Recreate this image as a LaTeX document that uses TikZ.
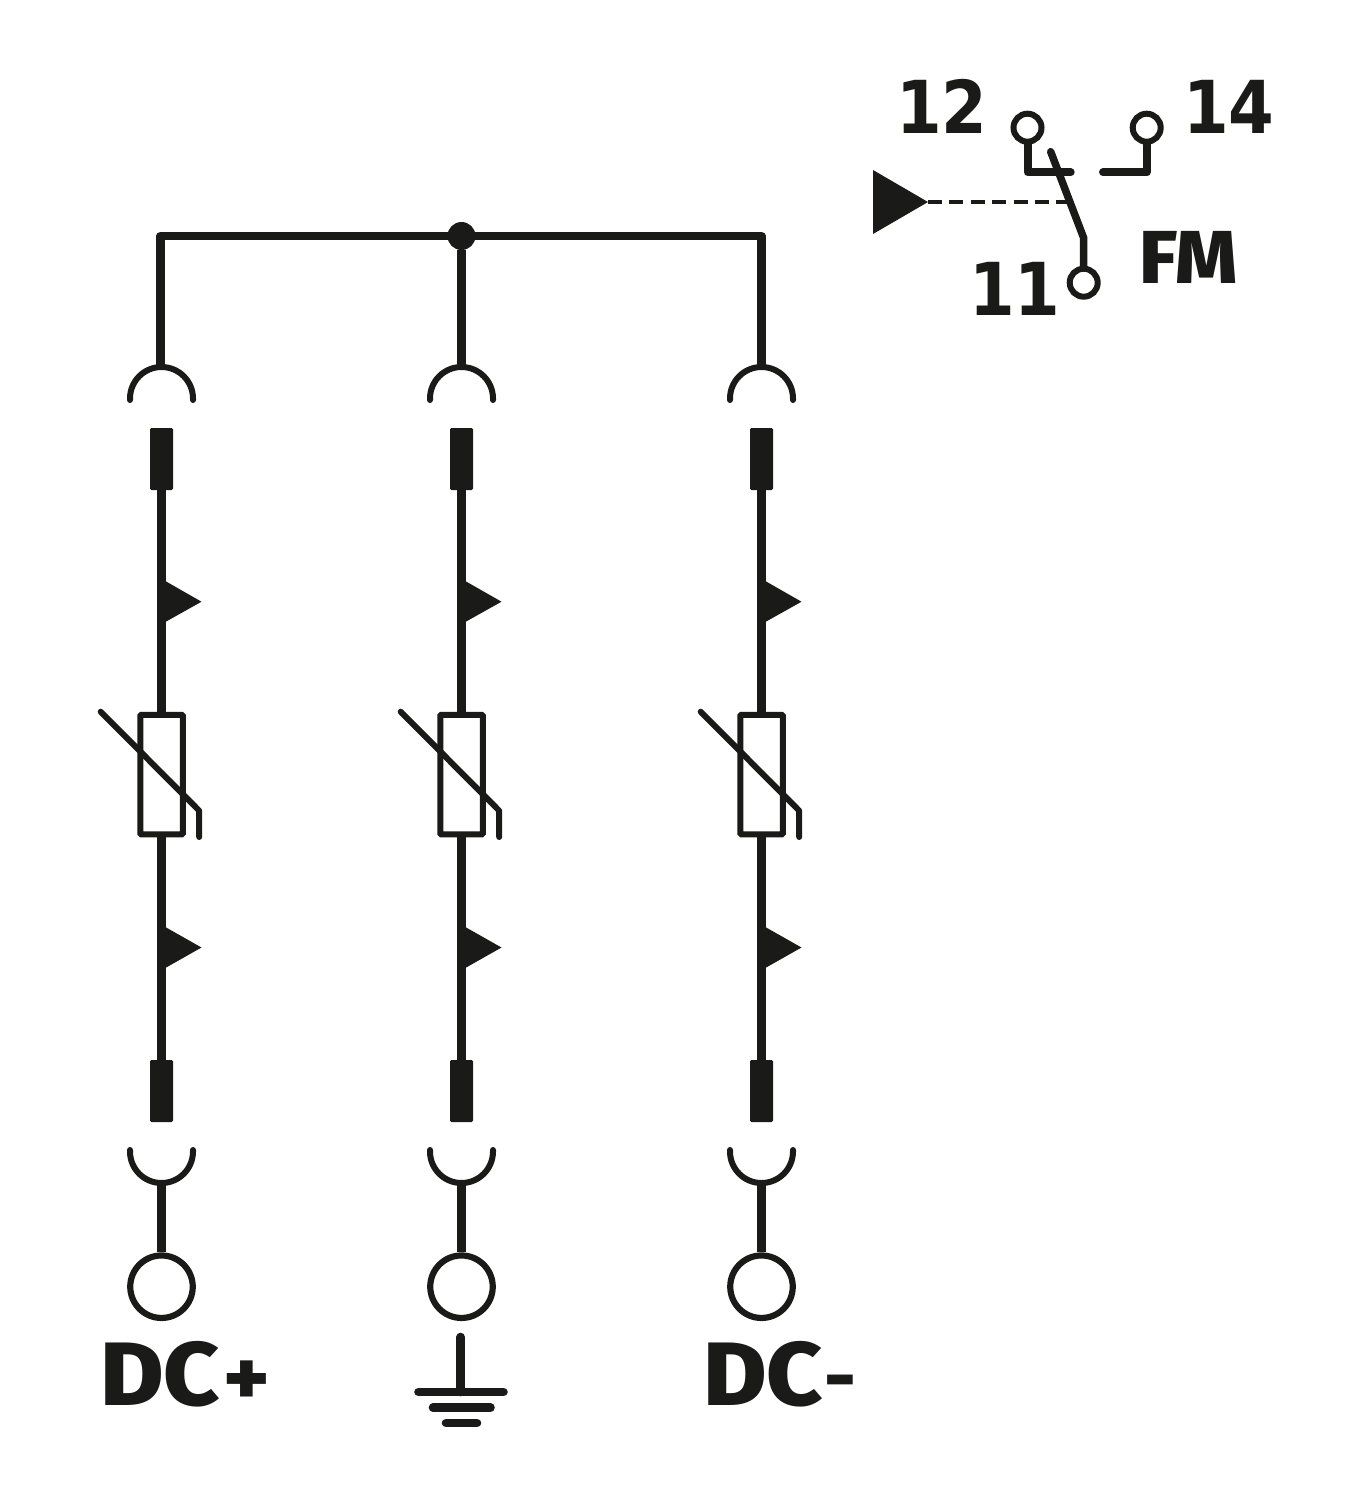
\documentclass[tikz,border=0pt]{standalone}
\usepackage{fontspec}
\setmainfont{Fira Sans ExtraBold}
\newfontfamily\digitfont{DejaVu Sans Condensed Bold}
\definecolor{ink}{HTML}{1A1A18}
\tikzset{
  wire/.style={draw=ink,line width=8.6pt,line cap=round,line join=round},
  thin wire/.style={draw=ink,line width=6pt,line cap=round,line join=round},
  contact/.style={draw=ink,fill=ink,line width=1pt,rounded corners=1pt,rectangle,minimum width=22pt,minimum height=61pt,inner sep=0pt},
  varbody/.style={draw=ink,fill=white,line width=6pt,rounded corners=1pt,rectangle,minimum width=42.5pt,minimum height=119.5pt,inner sep=0pt},
  terminal/.style={draw=ink,line width=6.2pt,circle,minimum size=62.5pt,inner sep=0pt,fill=white},
  aux/.style={draw=ink,line width=6pt,circle,minimum size=28pt,inner sep=0pt,fill=white},
  solid tri/.style={fill=ink},
  lab/.style={text=ink,inner sep=0pt,anchor=base west},
}
\begin{document}
\begin{tikzpicture}[x=1pt,y=-1pt]
\useasboundingbox (0,0) rectangle (1371,1500);
\fill[white] (0,0) rectangle (1371,1500);
\node[circle,fill=ink,minimum size=28pt,inner sep=0pt] (hub) at (461.5,236) {};
\foreach \n/\x in {a/161.5,b/461.5,c/761.5}{
  \coordinate (top\n) at (\x,367);
  \coordinate (sockbot\n) at (\x,1183);
  \node[contact] (up\n) at (\x,459) {};
  \node[contact] (lo\n) at (\x,1091) {};
  \node[terminal] (term\n) at (\x,1286.7) {};
  \draw[wire,line cap=butt] (up\n.south) -- (\x,714);
  \draw[wire,line cap=butt] (\x,834) -- (lo\n.north);
  \node[varbody] (var\n) at (\x,774.5) {};
  \draw[thin wire] (\x-60.8,711.7) -- (\x+37.7,810.7) -- (\x+37.7,837);
  \fill[solid tri] (\x+2,580) -- (\x+40,601.7) -- (\x+2,623) -- cycle;
  \fill[solid tri] (\x+2,926) -- (\x+40,947.5) -- (\x+2,969) -- cycle;
  \draw[thin wire] (\x-31.5,400) -- (\x-31.5,398.5) arc[start angle=180,end angle=0,radius=31.5pt] -- (\x+31.5,400);
  \draw[thin wire] (\x-31.5,1150) -- (\x-31.5,1151.5) arc[start angle=180,end angle=360,radius=31.5pt] -- (\x+31.5,1150);
  \draw[wire,line cap=butt] (sockbot\n) -- (term\n.north);
}
\draw[wire,line cap=butt] (topa) ++(-1,0) |- (hub.center) -| (topc);
\draw[wire,line cap=butt] (hub) -- (topb);
% ground
\coordinate (gtop) at (460.7,1337);
\coordinate (gbar) at (460.7,1392);
\draw[wire] (gtop) -- (gbar);
\draw[wire] (418.5,1392) -- (503.5,1392);
\draw[wire] (433,1407.7) -- (490.5,1407.7);
\draw[wire] (446,1423) -- (477,1423);
\node[lab,font=\fontsize{90}{90}\selectfont] (dcp) at (100,1405) {\scalebox{1.08}[1]{DC\kern3pt{\fontsize{80}{80}\selectfont +}}};
\node[lab,font=\fontsize{90}{90}\selectfont] (dcm) at (703,1405) {\scalebox{1.08}[1]{DC\kern1pt\raisebox{3pt}{\fontsize{72}{72}\selectfont -}}};
% auxiliary contact
\node[aux] (c12) at (1027.5,127.7) {};
\node[aux] (c14) at (1146.7,127.7) {};
\node[aux] (c11) at (1083.7,282.7) {};
\coordinate (k12) at (1027.5,172.3);
\coordinate (k12e) at (1070.7,172.3);
\coordinate (k14) at (1146.7,172.3);
\coordinate (k14e) at (1103,172.3);
\draw[wire,line width=8pt] (c12.south) -- (k12) -- (k12e);
\draw[wire,line width=8pt] (k14e) -- (k14) -- (c14.south);
\coordinate (swtip) at (1050.7,151.7);
\coordinate (swknee) at (1083.7,238);
\draw[wire,line width=7.5pt] (swtip) -- (swknee) -- (c11.north);
\fill[solid tri] (873,170) coordinate (t1) -- (873,234) -- (928,202) coordinate (fmtip) -- cycle;
\coordinate (dashend) at (1067,202);
\draw[draw=ink,line width=3.5pt,dash pattern=on 14pt off 7.4pt] (fmtip) -- (dashend);
\node[lab,font=\digitfont\fontsize{73}{73}\selectfont] (l12) at (896,133) {12};
\node[lab,font=\digitfont\fontsize{73}{73}\selectfont] (l14) at (1183,133) {14};
\node[lab,font=\digitfont\fontsize{73}{73}\selectfont] (l11) at (969,315) {11};
\node[lab,font=\fontsize{75}{75}\selectfont] (lfm) at (1139,283) {\scalebox{1.05}[1]{FM}};
\end{tikzpicture}
\end{document}
